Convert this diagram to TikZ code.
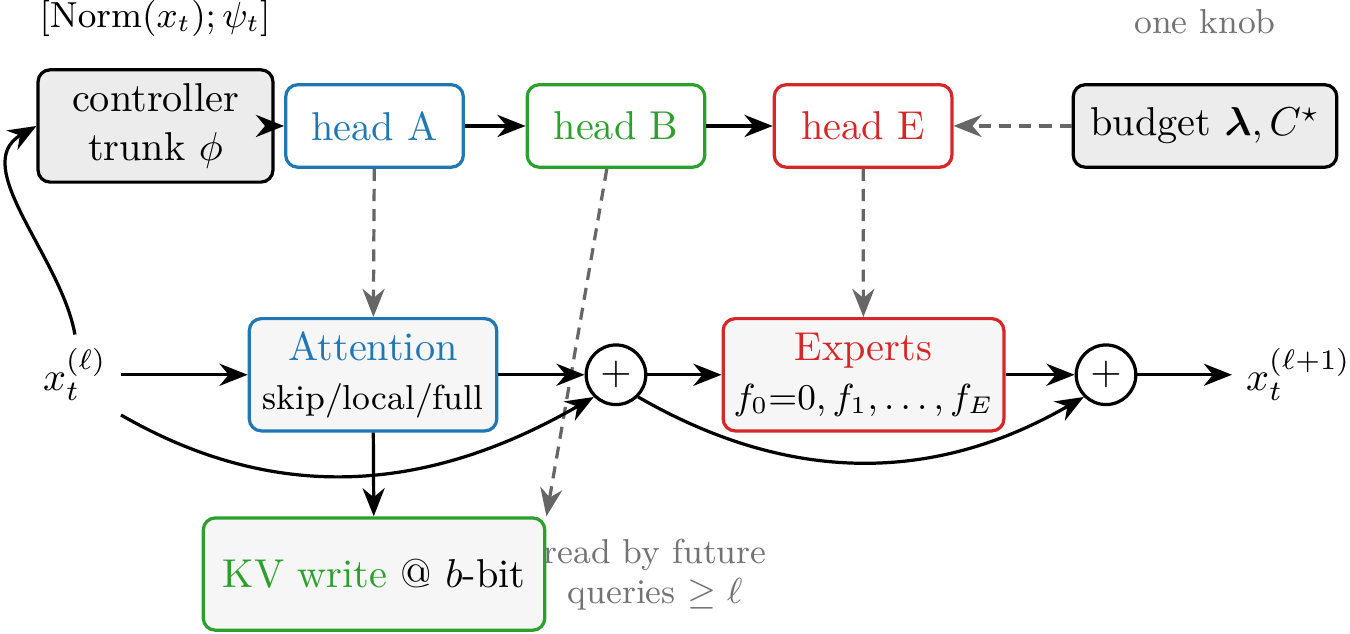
\documentclass[tikz,border=0pt]{standalone}
\usepackage{amsmath,amssymb}
\usetikzlibrary{positioning,arrows.meta,calc}
\definecolor{tabblue}{HTML}{1F77B4}
\definecolor{tabgreen}{HTML}{2CA02C}
\definecolor{tabred}{HTML}{D62728}
\newcommand{\notesize}{\fontsize{8.6pt}{10pt}\selectfont}
\tikzset{
  box/.style={draw, thick, rounded corners=3pt, align=center, minimum height=0.98cm, inner sep=2pt},
  ctlbox/.style={box, fill=gray!15},
  headbox/.style={box, fill=white, minimum width=1.55cm, minimum height=0.72cm},
  blockbox/.style={box, fill=gray!7},
  sumnode/.style={draw, thick, circle, minimum size=0.52cm, inner sep=0pt},
  flow/.style={thick, -{Stealth[length=7pt,width=5.5pt]}},
  ctrlflow/.style={thick, draw=black!60, dash pattern=on 3pt off 2pt,
    -{Stealth[length=7pt,width=5.5pt]}},
  note/.style={text=black!55, font=\notesize, align=center}
}

\begin{document}
\begin{tikzpicture}
    \useasboundingbox (0,0) rectangle (11.78,-5.524);

    % controller row
    \node[ctlbox, minimum width=2.05cm] (ctrl) at (1.357,-1.099) {controller\\trunk $\phi$};
    \node[headbox, draw=tabblue, text=tabblue] (hA) at (3.268,-1.099) {head A};
    \node[headbox, draw=tabgreen, text=tabgreen] (hB) at (5.375,-1.099) {head B};
    \node[headbox, draw=tabred, text=tabred] (hE) at (7.531,-1.099) {head E};
    \node[ctlbox, minimum width=2.3cm, minimum height=0.72cm] (budget) at (10.515,-1.099) {budget $\boldsymbol{\lambda}, C^{\star}$};

    % residual row
    \node[] (xin) at (0.654,-3.27) {$x_t^{(\ell)}$};
    \node[blockbox, draw=tabblue, minimum width=2.16cm] (attn) at (3.255,-3.27)
      {{\color{tabblue}Attention}\\{\notesize skip/local/full}};
    \node[sumnode] (plus1) at (5.375,-3.27) {$+$};
    \node[blockbox, draw=tabred, minimum width=2.45cm] (exp) at (7.535,-3.27)
      {{\color{tabred}Experts}\\{\notesize $f_0{=}0, f_1, \dots, f_E$}};
    \node[sumnode] (plus2) at (9.651,-3.27) {$+$};
    \node[] (xout) at (11.33,-3.27) {$x_t^{(\ell+1)}$};
    \node[blockbox, draw=tabgreen, minimum width=2.98cm] (kv) at (3.264,-5.009)
      {{\color{tabgreen}KV write} @ $b$-bit};

    % notes
    \node[font=\notesize] (normlbl) at (1.353,-0.157) {$[\mathrm{Norm}(x_t); \psi_t]$};
    \node[note] (knob) at (10.515,-0.192) {one knob};
    \node[note] (readlbl) at (5.716,-5.017) {read by future\\queries $\geq \ell$};

    \draw[flow] (ctrl) -- (hA);
    \draw[flow] (hA) -- (hB);
    \draw[flow] (hB) -- (hE);
    \draw[ctrlflow] (budget) -- (hE);
    \draw[ctrlflow] (hA) -- (attn);
    \draw[ctrlflow] (hE) -- (exp);
    \draw[ctrlflow] ([xshift=-0.8mm]hB.south) -- (kv.north east);

    \draw[flow] (xin.north) to[out=100, in=210, looseness=0.95] (ctrl.west);
    \draw[flow] (xin) -- (attn);
    \draw[flow] (attn) -- (plus1);
    \draw[flow] (xin.south east) to[out=-30, in=210] (plus1.south west);
    \draw[flow] (plus1) -- (exp);
    \draw[flow] (exp) -- (plus2);
    \draw[flow] (plus1.south east) to[out=-30, in=210] (plus2.south west);
    \draw[flow] (plus2) -- (xout);
    \draw[flow] (attn) -- (kv);
\end{tikzpicture}
\end{document}
